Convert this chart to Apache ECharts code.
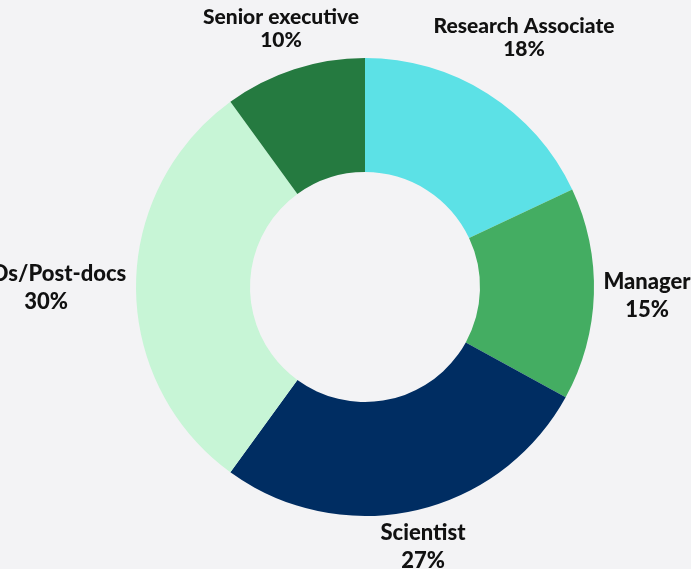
<!DOCTYPE html>
<html>
<head>
<meta charset="utf-8">
<style>
  html, body { margin: 0; padding: 0; background: #f3f3f5; }
  #chart { width: 691px; height: 569px; }
</style>
<script src="https://cdn.jsdelivr.net/npm/echarts@6/dist/echarts.min.js"></script>
</head>
<body>
<div id="chart"></div>
<script>
// share of respondents by role, clockwise from 12 o'clock
const roles = ['Research Associate', 'Manager', 'Scientist', 'PhDs/Post-docs', 'Senior executive']
const shares = [18, 15, 27, 30, 10]
const sliceColors = ['#5ce1e6', '#44ad62', '#002d62', '#c7f5d6', '#257a40']

// where each label sits (centre x, top y)
const labelSpots = [
  [524, 15],
  [647, 268],
  [423, 519],
  [46, 260],
  [281, 6]
]
// top two labels are set tighter
const narrowLabel = { fontSize: 21, lineHeight: 23 }

const chart = echarts.init(document.getElementById('chart'))
chart.setOption({
  backgroundColor: '#f3f3f5',
  animation: false,
  series: [{
    type: 'pie',
    center: [365, 287],
    radius: [115, 229],
    startAngle: 90,
    clockwise: true,
    silent: true,
    data: roles.map((name, i) => ({
      name: name,
      value: shares[i],
      itemStyle: { color: sliceColors[i] },
      label: (i === 0 || i === 4) ? narrowLabel : {}
    })),
    label: {
      show: true,
      position: 'outside',
      formatter: '{b}\n{c}%',
      color: '#111',
      fontFamily: 'Lato',
      fontWeight: 900,
      fontSize: 22,
      lineHeight: 28,
      align: 'center',
      overflow: 'none'
    },
    labelLine: { show: false },
    labelLayout: function (params) {
      const spot = labelSpots[params.dataIndex]
      return {
        x: spot[0],
        y: spot[1],
        align: 'center',
        verticalAlign: 'top'
      }
    }
  }]
})
</script>
</body>
</html>
